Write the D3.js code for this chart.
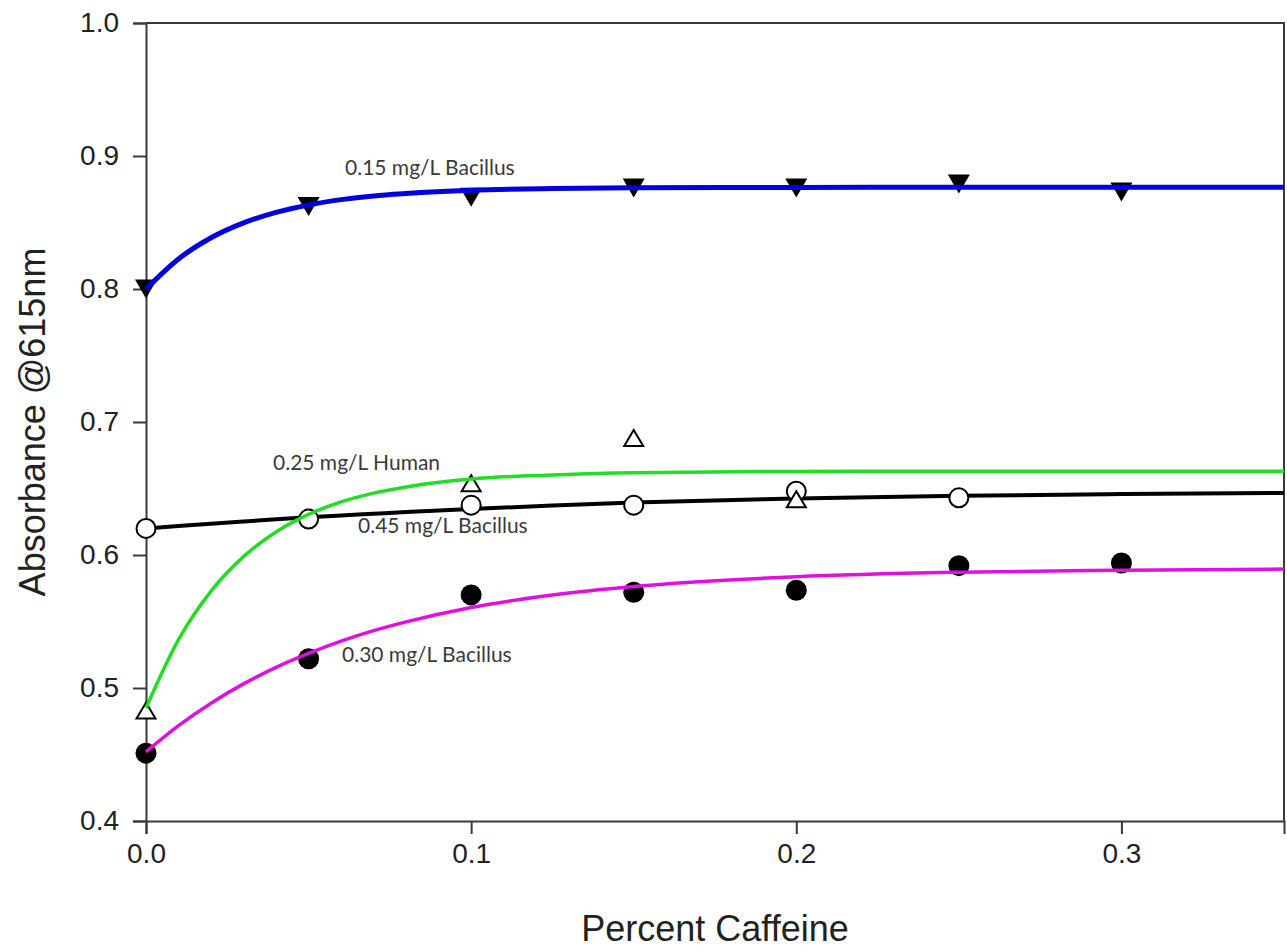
<!DOCTYPE html>
<html lang="en">

<head>
   <meta charset="UTF-8">
   <title>Absorbance vs Percent Caffeine</title>
   <script src="https://d3js.org/d3.v7.min.js"></script>
   <style>
      body {
         margin: 0;
         background: #fff;
      }

      .axis path,
      .axis line {
         stroke: #3a3a3a;
         stroke-width: 2px;
      }

      .axis text {
         fill: #222;
         font-family: "Liberation Sans", Arial, sans-serif;
         font-size: 28px;
      }

      .title {
         fill: #222;
         font-family: "Liberation Sans", Arial, sans-serif;
         font-size: 36px;
      }

      .note {
         fill: #3a3a3a;
         font-family: Lato, "Open Sans", sans-serif;
         font-size: 21px;
      }
   </style>
</head>

<body>
   <script>
      // measured points
      const caffeine = [0, 0.05, 0.1, 0.15, 0.2, 0.25, 0.3];
      const bac015 = [0.800, 0.862, 0.869, 0.876, 0.876, 0.879, 0.873];
      const bac030 = [0.451, 0.522, 0.570, 0.572, 0.5735, 0.592, 0.594];
      const bac045X = [0, 0.05, 0.1, 0.15, 0.2, 0.25];
      const bac045 = [0.620, 0.627, 0.6375, 0.6375, 0.648, 0.643];
      const human025X = [0, 0.1, 0.15, 0.2];
      const human025 = [0.483, 0.654, 0.688, 0.642];

      // fitted curves
      const fitX = [0, 0.01, 0.02, 0.03, 0.04, 0.05, 0.06, 0.07, 0.08, 0.1, 0.125, 0.15, 0.2, 0.25, 0.3, 0.35];
      const fit015 = [0.800, 0.8226, 0.8385, 0.8497, 0.8576, 0.8632, 0.8672, 0.870, 0.8718, 0.8742, 0.8755, 0.8761, 0.8764, 0.8765, 0.8765, 0.8765];
      const fit025 = [0.485, 0.5363, 0.5728, 0.5988, 0.6173, 0.6305, 0.6399, 0.6465, 0.6512, 0.6571, 0.6602, 0.6619, 0.6628, 0.663, 0.663, 0.663];
      const fit030 = [0.452, 0.4717, 0.4886, 0.5031, 0.5155, 0.526, 0.5352, 0.5431, 0.5497, 0.5605, 0.5699, 0.5763, 0.5837, 0.5871, 0.5886, 0.5894];
      const fit045 = [0.620, 0.6218, 0.6235, 0.6252, 0.6268, 0.6283, 0.6297, 0.631, 0.6323, 0.6346, 0.6372, 0.6394, 0.6425, 0.6445, 0.6458, 0.6466];

      const xTicks = [0, 0.1, 0.2, 0.3];
      const yTicks = [0.4, 0.5, 0.6, 0.7, 0.8, 0.9, 1.0];

      const width = 1287;
      const height = 952;
      const plot = { left: 146, right: 1284, top: 23, bottom: 821 };

      const svg = d3.select('body').append('svg').attr('width', width).attr('height', height);

      const x = d3.scaleLinear().domain([0, 0.35]).range([plot.left, plot.right]);
      const y = d3.scaleLinear().domain([0.4, 1.0]).range([plot.bottom, plot.top]);

      // frame (top and right)
      svg.append('path')
         .attr('d', `M${plot.left},${plot.top}H${plot.right}V${plot.bottom}`)
         .attr('fill', 'none')
         .attr('stroke', '#3a3a3a')
         .attr('stroke-width', 2);

      svg.append('g')
         .attr('class', 'axis')
         .attr('transform', `translate(0, ${plot.bottom})`)
         .call(d3.axisBottom(x).tickValues(xTicks).tickFormat(d3.format('.1f')).tickSizeOuter(0).tickSize(13).tickPadding(9));

      svg.append('g')
         .attr('class', 'axis')
         .attr('transform', `translate(${plot.left}, 0)`)
         .call(d3.axisLeft(y).tickValues(yTicks).tickFormat(d3.format('.1f')).tickSizeOuter(0).tickSize(13).tickPadding(14));

      svg.append('text')
         .attr('class', 'title')
         .attr('x', (plot.left + plot.right) / 2)
         .attr('y', 941)
         .attr('text-anchor', 'middle')
         .text('Percent Caffeine');

      svg.append('text')
         .attr('class', 'title')
         .attr('transform', `translate(45, ${(plot.top + plot.bottom) / 2}) rotate(-90)`)
         .attr('text-anchor', 'middle')
         .text('Absorbance @615nm');

      const line = d3.line()
         .x(d => x(d[0]))
         .y(d => y(d[1]))
         .curve(d3.curveMonotoneX);

      const pairs = (xs, ys) => xs.map((v, i) => [v, ys[i]]);

      // black fit sits under the open circles
      svg.append('path')
         .datum(pairs(fitX, fit045))
         .attr('d', line)
         .attr('fill', 'none')
         .attr('stroke', '#000')
         .attr('stroke-width', 4);

      const triDown = (w, h) => `M${-w / 2},${-h / 2}L${w / 2},${-h / 2}L0,${h / 2}Z`;
      const triUp = (w, h) => `M${-w / 2},${h / 2}L${w / 2},${h / 2}L0,${-h / 2}Z`;

      svg.selectAll('.dot030')
         .data(pairs(caffeine, bac030))
         .enter().append('circle')
         .attr('cx', d => x(d[0]))
         .attr('cy', d => y(d[1]))
         .attr('r', 10.5)
         .attr('fill', '#000');

      svg.selectAll('.dot045')
         .data(pairs(bac045X, bac045))
         .enter().append('circle')
         .attr('cx', d => x(d[0]))
         .attr('cy', d => y(d[1]))
         .attr('r', 9.5)
         .attr('fill', '#fff')
         .attr('stroke', '#000')
         .attr('stroke-width', 2);

      svg.selectAll('.tri025')
         .data(pairs(human025X, human025))
         .enter().append('path')
         .attr('transform', d => `translate(${x(d[0])}, ${y(d[1])})`)
         .attr('d', triUp(19, 16))
         .attr('fill', '#fff')
         .attr('stroke', '#000')
         .attr('stroke-width', 2)
         .attr('stroke-linejoin', 'miter');

      svg.selectAll('.tri015')
         .data(pairs(caffeine, bac015))
         .enter().append('path')
         .attr('transform', d => `translate(${x(d[0])}, ${y(d[1])})`)
         .attr('d', triDown(22, 19))
         .attr('fill', '#000');

      // coloured fits on top of markers
      const fits = [
         { ys: fit015, color: '#0000e0', w: 5 },
         { ys: fit025, color: '#22dd22', w: 3.5 },
         { ys: fit030, color: '#e010e0', w: 3.5 }
      ];

      fits.forEach(f => {
         svg.append('path')
            .datum(pairs(fitX, f.ys))
            .attr('d', line)
            .attr('fill', 'none')
            .attr('stroke', f.color)
            .attr('stroke-width', f.w);
      });

      const notes = [
         { text: '0.15 mg/L Bacillus', x: 345, y: 175 },
         { text: '0.25 mg/L Human', x: 273, y: 470 },
         { text: '0.45 mg/L Bacillus', x: 358, y: 533 },
         { text: '0.30 mg/L Bacillus', x: 342, y: 662 }
      ];

      svg.selectAll('.note')
         .data(notes)
         .enter().append('text')
         .attr('class', 'note')
         .attr('x', d => d.x)
         .attr('y', d => d.y)
         .text(d => d.text);
   </script>
</body>

</html>
